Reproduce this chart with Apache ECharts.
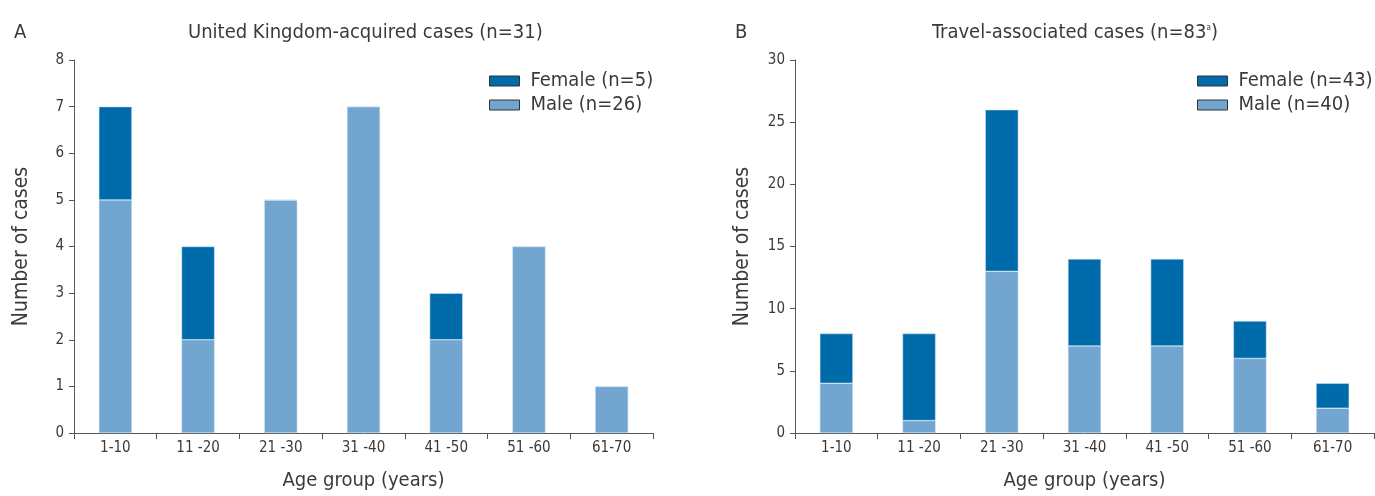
<!DOCTYPE html>
<html><head><meta charset="utf-8">
<script src="https://cdn.jsdelivr.net/npm/echarts@6/dist/echarts.min.js"></script>
<style>html,body{margin:0;padding:0;background:#fff}#c{width:1375px;height:496px}</style>
</head><body><div id="c"></div>
<script>
const categories = ['1-10','11 -20','21 -30','31 -40','41 -50','51 -60','61-70'];
const ukMale = [5,2,5,7,2,4,1];
const ukFemale = [2,2,0,0,1,0,0];
const travelMale = [4,1,13,7,7,6,2];
const travelFemale = [4,7,13,7,7,3,2];
const FEMALE = '#006bab', MALE = '#72a6d1';
const FONT = '"Liberation Sans Narrow","DejaVu Sans Condensed","Open Sans",sans-serif';
const txt = '#3a3a3a', ax = '#555';
const chart = echarts.init(document.getElementById('c'));
function xAxis(gi){return {type:'category',gridIndex:gi,data:categories,name:'Age group (years)',nameLocation:'middle',nameGap:38,
  nameTextStyle:{fontSize:20,color:txt,fontFamily:FONT},
  axisLine:{lineStyle:{color:ax,width:1}},axisTick:{show:true,length:6,lineStyle:{color:ax}},
  axisLabel:{fontSize:15,color:txt,fontFamily:FONT,margin:8}};}
function yAxis(gi,max,interval){return {type:'value',gridIndex:gi,min:0,max:max,interval:interval,name:'Number of cases',nameLocation:'middle',nameGap:42,
  nameTextStyle:{fontSize:21,color:txt,fontFamily:FONT},
  axisLine:{show:true,lineStyle:{color:ax}},axisTick:{show:true,length:5,lineStyle:{color:ax}},splitLine:{show:false},
  axisLabel:{fontSize:15,color:txt,fontFamily:FONT,margin:10}};}
function bar(name,data,color,xi,stack){return {type:'bar',name:name,data:data,stack:stack,xAxisIndex:xi,yAxisIndex:xi,barWidth:'40%',
  itemStyle:{color:color,borderColor:'#d6e6f3',borderWidth:0.5},silent:true,animation:false};}
const tstyle = {fontSize:20,fontWeight:'normal',color:txt,fontFamily:FONT};
const legText = {fontSize:20,color:txt,fontFamily:FONT,padding:[0,0,0,6]};
chart.setOption({
  animation:false,
  textStyle:{fontFamily:FONT},
  title:[
    {text:'A',left:9,top:18,textStyle:tstyle},
    {text:'United Kingdom-acquired cases (n=31)',left:183,top:18,textStyle:tstyle},
    {text:'B',left:730,top:18,textStyle:tstyle},
    {text:'Travel-associated cases (n=83{s|a})',left:927,top:18,textStyle:Object.assign({},tstyle,{
      rich:{s:{fontSize:8,color:txt,padding:[0,0,10,0]}}})}
  ],
  grid:[
    {left:74,right:722,top:60,bottom:61,containLabel:false},
    {left:795,right:1,top:60,bottom:61,containLabel:false}
  ],
  legend:[
    {data:['Female (n=5)','Male (n=26)'],orient:'vertical',left:484,top:66,itemWidth:30,itemHeight:10,itemGap:4,icon:'rect',
     itemStyle:{borderColor:'#333',borderWidth:1},textStyle:legText,selectedMode:false},
    {data:['Female (n=43)','Male (n=40)'],orient:'vertical',left:1192,top:66,itemWidth:30,itemHeight:10,itemGap:4,icon:'rect',
     itemStyle:{borderColor:'#333',borderWidth:1},textStyle:legText,selectedMode:false}
  ],
  xAxis:[xAxis(0),xAxis(1)],
  yAxis:[yAxis(0,8,1),yAxis(1,30,5)],
  series:[
    bar('Male (n=26)',ukMale,MALE,0,'a'),
    bar('Female (n=5)',ukFemale,FEMALE,0,'a'),
    bar('Male (n=40)',travelMale,MALE,1,'b'),
    bar('Female (n=43)',travelFemale,FEMALE,1,'b')
  ]
});
</script></body></html>
